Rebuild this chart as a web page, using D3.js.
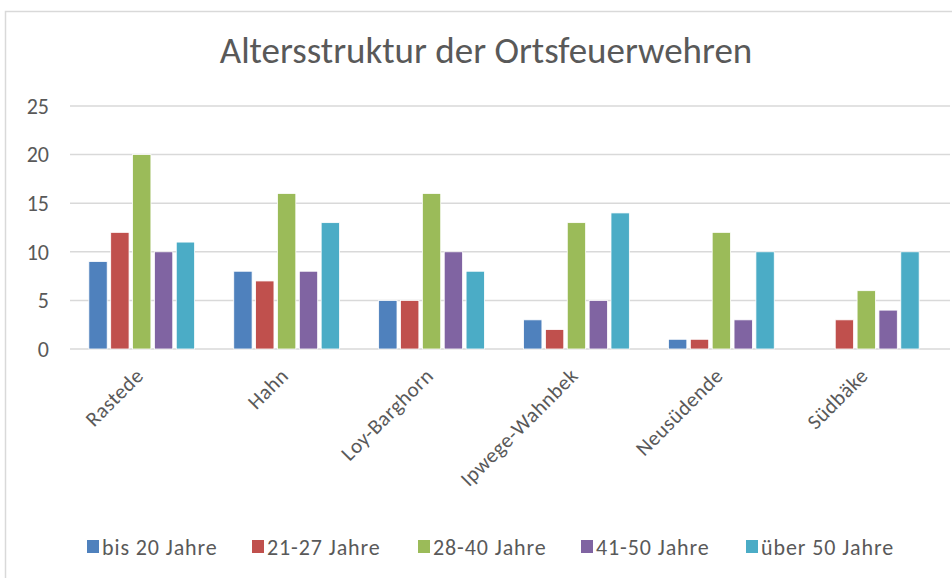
<!DOCTYPE html>
<html>
<head>
<meta charset="utf-8">
<script src="https://cdn.jsdelivr.net/npm/d3@7"></script>
<style>
  body { margin: 0; background: #fff; }
  svg { display: block; font-family: Carlito, Calibri, Lato, "Open Sans", sans-serif; }
</style>
</head>
<body>
<div id="chart"></div>
<script>
// data
var categories = ["Rastede", "Hahn", "Loy-Barghorn", "Ipwege-Wahnbek", "Neusüdende", "Südbäke"];
var seriesNames = ["bis 20 Jahre", "21-27 Jahre", "28-40 Jahre", "41-50 Jahre", "über 50 Jahre"];
var bis20 = [9, 8, 5, 3, 1, 0];
var j21_27 = [12, 7, 5, 2, 1, 3];
var j28_40 = [20, 16, 16, 13, 12, 6];
var j41_50 = [10, 8, 10, 5, 3, 4];
var ueber50 = [11, 13, 8, 14, 10, 10];
var yTicks = [0, 5, 10, 15, 20, 25];

var colors = ["#4f81bd", "#c0504d", "#9bbb59", "#8064a2", "#4bacc6"];
var series = [bis20, j21_27, j28_40, j41_50, ueber50];

var W = 952, H = 578;
var plot = {left: 70, right: 938, top: 106, bottom: 349};
var textCol = "#595959", gridCol = "#d9d9d9";

var svg = d3.select("#chart").append("svg")
  .attr("width", W).attr("height", H);

// outer frame
svg.append("rect")
  .attr("x", 5.5).attr("y", 11.5)
  .attr("width", W + 10).attr("height", H + 10)
  .attr("fill", "none").attr("stroke", gridCol).attr("stroke-width", 1.5);

// title
svg.append("text")
  .attr("x", 486).attr("y", 63)
  .attr("text-anchor", "middle")
  .attr("fill", textCol)
  .style("font-size", "37px").style("font-weight", 300)
  .text("Altersstruktur der Ortsfeuerwehren");

var x0 = d3.scaleBand().domain(categories).range([plot.left, plot.right]).paddingOuter(0.13).paddingInner(0.27);
var x1 = d3.scaleBand().domain(d3.range(seriesNames.length)).range([0, x0.bandwidth()]).paddingInner(0.16);
var y = d3.scaleLinear().domain([0, 25]).range([plot.bottom, plot.top]);

// grid
svg.append("g").selectAll("line").data(yTicks).join("line")
  .attr("x1", plot.left).attr("x2", 950)
  .attr("y1", d => y(d)).attr("y2", d => y(d))
  .attr("stroke", gridCol).attr("stroke-width", 1.5);

// y labels
svg.append("g").selectAll("text").data(yTicks).join("text")
  .attr("x", 49).attr("y", d => y(d)).attr("dy", "0.35em")
  .attr("text-anchor", "end").attr("fill", textCol)
  .style("font-size", "22px")
  .text(d => d);

// bars
var groups = svg.append("g").selectAll("g").data(categories).join("g")
  .attr("transform", d => "translate(" + x0(d) + ",0)");

groups.selectAll("rect")
  .data((c, ci) => series.map((s, si) => ({si: si, v: s[ci]})).filter(d => d.v > 0))
  .join("rect")
  .attr("x", d => x1(d.si))
  .attr("width", x1.bandwidth())
  .attr("y", d => y(d.v))
  .attr("height", d => y(0) - y(d.v))
  .attr("fill", d => colors[d.si])
  .attr("stroke", "#fff").attr("stroke-width", 0.8);

// x labels
svg.append("g").selectAll("text").data(categories).join("text")
  .attr("transform", d => "translate(" + (x0(d) + x0.bandwidth() / 2 + 3) + ",377) rotate(-45)")
  .attr("text-anchor", "end").attr("fill", textCol)
  .style("font-size", "21px").style("letter-spacing", "0.5px")
  .text(d => d);

// legend
var legendX = [87, 252, 418, 581, 746];
var lg = svg.append("g").selectAll("g").data(seriesNames).join("g")
  .attr("transform", (d, i) => "translate(" + legendX[i] + ",547)");
lg.append("rect").attr("x", 0).attr("y", -7).attr("width", 12).attr("height", 13)
  .attr("fill", (d, i) => colors[i]);
lg.append("text").attr("x", 15).attr("dy", "0.35em").attr("fill", textCol)
  .style("font-size", "22px").style("letter-spacing", "0.9px")
  .text(d => d);
</script>
</body>
</html>
